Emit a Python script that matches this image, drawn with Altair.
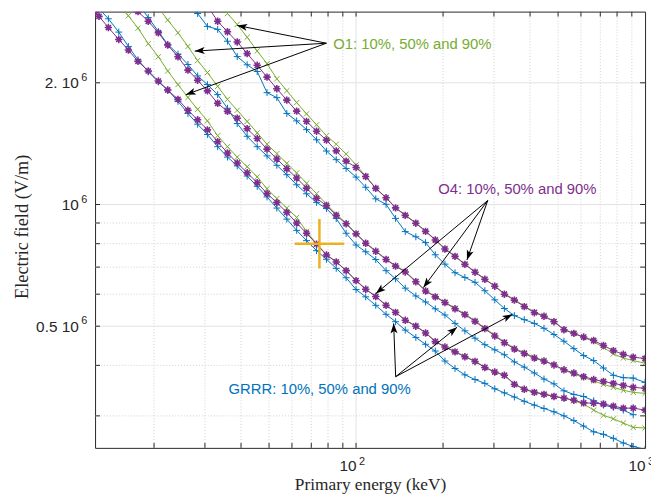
import math
import altair as alt
import pandas as pd

# ---------------- data (field in units of 10^6 V/m) ----------------
ENERGY_KEV = [12.5, 12.9, 13.9, 15.1, 16.3, 17.6, 19.1, 20.7, 22.3, 24.2,
              26.2, 28.3, 30.6, 33.2, 35.9, 38.8, 42.0, 45.5, 49.2, 53.2,
              57.6, 62.3, 67.4, 73.0, 79.0, 85.4, 92.4, 100, 108, 117,
              127, 137, 148, 161, 174, 188, 203, 220, 238, 258,
              279, 302, 326, 353, 382, 414, 447, 484, 524, 567,
              613, 664, 718, 777, 841, 910, 1000]

N = None
GRRR_10 = [N, 3.05, 2.88, 2.67, 2.46, 2.28, 2.13, 2.01, 1.92, 1.80,
           1.68, 1.58, 1.49, 1.39, 1.31, 1.246, 1.176, 1.109, 1.044, 0.980,
           0.920, 0.863, 0.814, 0.769, 0.732, 0.695, 0.659, 0.616, 0.591, 0.563,
           0.535, 0.513, 0.489, 0.469, 0.451, 0.434, 0.410, 0.393, 0.379, 0.369,
           0.361, 0.350, 0.342, 0.334, 0.326, 0.319, 0.313, 0.307, 0.300, 0.292,
           0.283, 0.274, 0.270, 0.264, 0.257, 0.252, 0.248]
GRRR_50 = [N, N, N, N, N, 3.14, 2.90, 2.68, 2.49, 2.355,
           2.22, 2.08, 1.98, 1.87, 1.73, 1.586, 1.475, 1.390, 1.319, 1.250,
           1.185, 1.119, 1.063, 1.012, 0.977, 0.923, 0.849, 0.794, 0.764, 0.731,
           0.686, 0.655, 0.621, 0.594, 0.574, 0.552, 0.533, 0.508, 0.487, 0.467,
           0.450, 0.437, 0.425, 0.408, 0.396, 0.383, 0.370, 0.360, 0.346, 0.339,
           0.335, 0.327, 0.319, 0.315, 0.310, 0.302, N]
GRRR_90 = [N, N, N, N, N, N, N, N, N, N,
           3.10, 2.968, 2.758, 2.712, 2.534, 2.322, 2.216, 2.133, 1.891, 1.838,
           1.680, 1.610, 1.532, 1.446, 1.356, 1.291, 1.228, 1.169, 1.103, 1.033,
           1.001, 0.924, 0.857, 0.832, 0.805, 0.751, 0.712, 0.678, 0.660, 0.642,
           0.612, 0.581, 0.553, 0.531, 0.519, 0.508, 0.494, 0.477, 0.459, 0.440,
           0.423, 0.411, 0.394, 0.378, 0.373, 0.372, 0.363]

O1_10 = [N, N, N, 3.15, 2.93, 2.73, 2.50, 2.32, 2.14, 1.98,
         1.84, 1.72, 1.61, 1.48, 1.39, 1.31, 1.24, 1.17, 1.094, 1.034,
         0.980, 0.929, 0.858, 0.800, 0.752, 0.722, 0.687, 0.649, 0.618, 0.593,
         0.564, 0.542, 0.518, 0.501, 0.482, 0.459, 0.445, 0.433, 0.421, 0.410,
         0.396, 0.386, 0.379, 0.360, 0.350, 0.344, 0.340, 0.336, 0.332, 0.327,
         0.321, 0.310, 0.301, 0.295, 0.288, 0.281, 0.280]
O1_50 = [N, N, N, N, N, N, N, 3.07, 2.86, 2.66,
         2.46, 2.27, 2.12, 1.96, 1.82, 1.71, 1.605, 1.504, 1.410, 1.336,
         1.264, 1.197, 1.129, 1.064, 1.002, 0.947, 0.899, 0.849, 0.805, 0.768,
         0.733, 0.706, 0.683, 0.646, 0.613, 0.593, 0.574, 0.554, 0.536, 0.516,
         0.495, 0.475, 0.457, 0.441, 0.430, 0.419, 0.411, 0.401, 0.389, 0.381,
         0.373, 0.366, 0.359, 0.353, 0.347, 0.343, 0.341]
O1_90 = [N, N, N, N, N, N, N, N, N, N,
         N, N, N, 3.16, 2.968, 2.789, 2.592, 2.397, 2.230, 2.046,
         1.912, 1.787, 1.676, 1.575, 1.480, 1.410, 1.333, 1.253, 1.175, 1.098,
         1.041, 0.983, 0.942, 0.901, 0.860, 0.819, 0.778, 0.746, 0.713, 0.682,
         0.655, 0.629, 0.602, 0.582, 0.561, 0.542, 0.531, 0.514, 0.491, 0.480,
         0.469, 0.458, 0.443, 0.427, 0.417, 0.411, 0.405]

O4_10 = [2.98, 2.92, 2.74, 2.56, 2.41, 2.26, 2.14, 2.02, 1.92, 1.82,
         1.71, 1.62, 1.53, 1.43, 1.341, 1.267, 1.198, 1.132, 1.064, 1.011,
         0.956, 0.900, 0.849, 0.798, 0.750, 0.721, 0.686, 0.648, 0.617, 0.592,
         0.563, 0.541, 0.517, 0.500, 0.481, 0.458, 0.444, 0.432, 0.420, 0.409,
         0.395, 0.385, 0.378, 0.359, 0.349, 0.343, 0.339, 0.335, 0.332, 0.328,
         0.323, 0.3225, 0.321, 0.317, 0.3135, 0.3135, 0.310]
O4_50 = [N, N, N, N, 3.17, 3.00, 2.84, 2.66, 2.48, 2.32,
         2.15, 2.03, 1.91, 1.78, 1.70, 1.635, 1.540, 1.456, 1.371, 1.296,
         1.226, 1.163, 1.098, 1.036, 0.994, 0.940, 0.896, 0.846, 0.802, 0.766,
         0.731, 0.704, 0.681, 0.644, 0.611, 0.591, 0.572, 0.552, 0.534, 0.514,
         0.493, 0.473, 0.455, 0.439, 0.428, 0.417, 0.410, 0.401, 0.390, 0.383,
         0.375, 0.369, 0.365, 0.361, 0.357, 0.353, 0.351]
O4_90 = [N, N, N, N, N, N, N, N, N, N,
         N, N, 3.10, 2.84, 2.675, 2.524, 2.362, 2.210, 2.066, 1.934,
         1.812, 1.702, 1.606, 1.518, 1.443, 1.357, 1.280, 1.235, 1.173, 1.096,
         1.039, 0.981, 0.940, 0.899, 0.858, 0.817, 0.776, 0.744, 0.711, 0.680,
         0.653, 0.628, 0.600, 0.580, 0.559, 0.540, 0.529, 0.513, 0.490, 0.480,
         0.470, 0.461, 0.448, 0.435, 0.426, 0.419, 0.416]

# reference point (orange cross)
REF_ENERGY = [74.7]
REF_FIELD = [0.80]

# annotations
ANNOT_LABELS = ["O1: 10%, 50% and 90%", "O4: 10%, 50% and 90%", "GRRR: 10%, 50% and 90%"]
ANNOT_ENERGY = [83.4, 192.4, 36.2]
ANNOT_FIELD = [2.49, 1.094, 0.349]
ANNOT_COLOR = ["#77AC30", "#7E2F8E", "#0072BD"]

ARROW_FROM_E = [78.95, 78.95, 78.95, 285.5, 285.5, 285.5, 137.1, 137.1, 137.1]
ARROW_FROM_F = [2.506, 2.506, 2.506, 1.023, 1.023, 1.023, 0.375, 0.375, 0.375]
ARROW_TO_E = [38.81, 27.65, 25.76, 117.1, 171.0, 241.9, 134.9, 223.6, 347.6]
ARROW_TO_F = [2.773, 2.396, 1.869, 0.602, 0.623, 0.729, 0.508, 0.497, 0.535]

# axis ticks / labels
X_MINOR = [20, 30, 40, 50, 60, 70, 80, 90, 200, 300, 400, 500, 600, 700, 800, 900]
X_MAJOR = [100]
X_LABEL_VALUES = [100, 1000]
X_LABEL_EXP = ["2", "3"]
Y_MINOR = [0.3, 0.4, 0.6, 0.7, 0.8, 0.9]
Y_MAJOR = [0.5, 1, 2]
Y_LABEL_EXP = ["6", "6", "6"]

# ---------------- layout ----------------
W, H = 556, 441
XD = [12.5, 1000.0]
YD = [0.25, 3.0]
XS = alt.Scale(type="log", domain=XD, nice=False)
YS = alt.Scale(type="log", domain=YD, nice=False)
X_TITLE = "Primary energy (keV)"
Y_TITLE = "Electric field (V/m)"
TXT = "#262626"

X_AXIS = alt.Axis(values=X_LABEL_VALUES, labelExpr="'10'", labelAlign="right",
                  ticks=False, domain=False, grid=False, labelFlush=False,
                  labelFont="Liberation Sans", labelFontSize=15.5, labelColor=TXT,
                  labelPadding=11, titleFont="Liberation Serif", titleFontSize=17.5,
                  titleFontWeight="normal", titleColor=TXT, titleY=37,
                  titleBaseline="middle")
Y_AXIS = alt.Axis(values=Y_MAJOR,
                  labelExpr="datum.value == 0.5 ? '0.5 10' : (datum.value == 1 ? '10' : '2. 10')",
                  ticks=False, domain=False, grid=False,
                  labelFont="Liberation Sans", labelFontSize=15.5, labelColor=TXT,
                  labelPadding=17, titleFont="Liberation Serif", titleFontSize=18.5,
                  titleFontWeight="normal", titleColor=TXT, titleX=-74, titleY=217,
                  titleAlign="center", titleBaseline="middle")


def X(f="energy"):
    return alt.X(f"{f}:Q", scale=XS, axis=X_AXIS, title=X_TITLE)


def Y(f="field"):
    return alt.Y(f"{f}:Q", scale=YS, axis=Y_AXIS, title=Y_TITLE)


# ---------------- build tables ----------------
CURVES = [("GRRR", "10%", GRRR_10), ("GRRR", "50%", GRRR_50), ("GRRR", "90%", GRRR_90),
          ("O1", "10%", O1_10), ("O1", "50%", O1_50), ("O1", "90%", O1_90),
          ("O4", "10%", O4_10), ("O4", "50%", O4_50), ("O4", "90%", O4_90)]
rows = []
for model, pct, vals in CURVES:
    for e, f in zip(ENERGY_KEV, vals):
        if f is not None:
            rows.append({"energy": e, "field": f, "model": model, "pct": pct})
df = pd.DataFrame(rows)

PLUS = "M-1,0L1,0M0,-1L0,1"
XCROSS = "M-0.75,-0.75L0.75,0.75M-0.75,0.75L0.75,-0.75"
STAR = "M-1,0L1,0M0,-1L0,1M-0.7,-0.7L0.7,0.7M-0.7,0.7L0.7,-0.7"
STYLE = {
    "GRRR": dict(color="#0072BD", shape=PLUS, size=49, sw=1.0),
    "O1": dict(color="#77AC30", shape=XCROSS, size=49, sw=1.0),
    "O4": dict(color="#7E2F8E", shape=STAR, size=56, sw=1.6),
}

layers = []

# grid lines
gx_minor = alt.Chart(pd.DataFrame({"energy": X_MINOR})).mark_rule(
    color="#cfcfcf", strokeDash=[1, 2], strokeWidth=1).encode(
    x=X(), y=alt.value(0), y2=alt.value(H))
gx_major = alt.Chart(pd.DataFrame({"energy": X_MAJOR})).mark_rule(
    color="#e2e2e2", strokeWidth=1).encode(x=X(), y=alt.value(0), y2=alt.value(H))
gy_minor = alt.Chart(pd.DataFrame({"field": Y_MINOR})).mark_rule(
    color="#cfcfcf", strokeDash=[1, 2], strokeWidth=1).encode(
    y=Y(), x=alt.value(0), x2=alt.value(W))
gy_major = alt.Chart(pd.DataFrame({"field": Y_MAJOR})).mark_rule(
    color="#e2e2e2", strokeWidth=1).encode(y=Y(), x=alt.value(0), x2=alt.value(W))
layers += [gx_minor, gx_major, gy_minor, gy_major]

for model in ["GRRR", "O1", "O4"]:
    st = STYLE[model]
    sub = df[df["model"] == model]
    base = alt.Chart(sub)
    layers.append(base.mark_line(color=st["color"], strokeWidth=1, clip=True).encode(
        x=X(), y=Y(), detail="pct:N"))
    layers.append(base.mark_point(shape=st["shape"], size=st["size"], filled=False,
                                  color=st["color"], strokeWidth=st["sw"], opacity=1,
                                  clip=True).encode(x=X(), y=Y()))

# reference cross
layers.append(alt.Chart(pd.DataFrame({"energy": REF_ENERGY, "field": REF_FIELD})).mark_point(
    shape=PLUS, size=2500, filled=False, color="#EDB120", strokeWidth=2.5, opacity=1).encode(
    x=X(), y=Y()))


# arrows
def to_px(e, f):
    px = W * (math.log10(e) - math.log10(XD[0])) / (math.log10(XD[1]) - math.log10(XD[0]))
    py = H * (math.log10(YD[1]) - math.log10(f)) / (math.log10(YD[1]) - math.log10(YD[0]))
    return px, py


angles = []
for e0, f0, e1, f1 in zip(ARROW_FROM_E, ARROW_FROM_F, ARROW_TO_E, ARROW_TO_F):
    x0, y0 = to_px(e0, f0)
    x1, y1 = to_px(e1, f1)
    angles.append(math.degrees(math.atan2(x1 - x0, -(y1 - y0))) % 360)
arrows = pd.DataFrame({"energy": ARROW_FROM_E, "field": ARROW_FROM_F,
                       "energy2": ARROW_TO_E, "field2": ARROW_TO_F, "angle": angles})
layers.append(alt.Chart(arrows).mark_rule(color="black", strokeWidth=1).encode(
    x=X(), y=Y(), x2="energy2:Q", y2="field2:Q"))
HEAD = "M0,0L0.6,1.7L0,1.3L-0.6,1.7Z"
layers.append(alt.Chart(arrows).mark_point(shape=HEAD, size=140, filled=True, color="black",
                                           opacity=1, strokeWidth=0).encode(
    x=X("energy2"), y=Y("field2"), angle=alt.Angle("angle:Q", scale=None)))

# annotation texts
ann = pd.DataFrame({"energy": ANNOT_ENERGY, "field": ANNOT_FIELD,
                    "label": ANNOT_LABELS, "color": ANNOT_COLOR})
layers.append(alt.Chart(ann).mark_text(align="left", baseline="middle",
                                       font="Liberation Sans", fontSize=15).encode(
    x=X(), y=Y(), text="label:N", color=alt.Color("color:N", scale=None)))

# exponents of the tick labels
layers.append(alt.Chart(pd.DataFrame({"energy": X_LABEL_VALUES, "exp": X_LABEL_EXP})).mark_text(
    align="left", baseline="middle", font="Liberation Sans", fontSize=11, color=TXT, dx=3).encode(
    x=X(), y=alt.value(H + 14), text="exp:N"))
layers.append(alt.Chart(pd.DataFrame({"field": Y_MAJOR, "exp": Y_LABEL_EXP})).mark_text(
    align="left", baseline="middle", font="Liberation Sans", fontSize=11, color=TXT, dy=-5).encode(
    y=Y(), x=alt.value(-14), text="exp:N"))

# inward ticks (box on all sides)
xt = pd.DataFrame({"energy": X_MINOR + X_MAJOR})
yt = pd.DataFrame({"field": Y_MINOR + Y_MAJOR})
layers.append(alt.Chart(xt).mark_rule(color=TXT, strokeWidth=1).encode(
    x=X(), y=alt.value(H), y2=alt.value(H - 5)))
layers.append(alt.Chart(xt).mark_rule(color=TXT, strokeWidth=1).encode(
    x=X(), y=alt.value(0), y2=alt.value(5)))
layers.append(alt.Chart(yt).mark_rule(color=TXT, strokeWidth=1).encode(
    y=Y(), x=alt.value(0), x2=alt.value(5)))
layers.append(alt.Chart(yt).mark_rule(color=TXT, strokeWidth=1).encode(
    y=Y(), x=alt.value(W), x2=alt.value(W - 5)))

chart = alt.layer(*layers).properties(
    width=W, height=H,
    autosize=alt.AutoSizeParams(type="none"),
    padding={"left": 88, "top": 1, "right": 6, "bottom": 48},
    background="white",
).configure_view(stroke=TXT, strokeWidth=1)

chart.save("out.html", embed_options={"renderer": "svg", "actions": False})
